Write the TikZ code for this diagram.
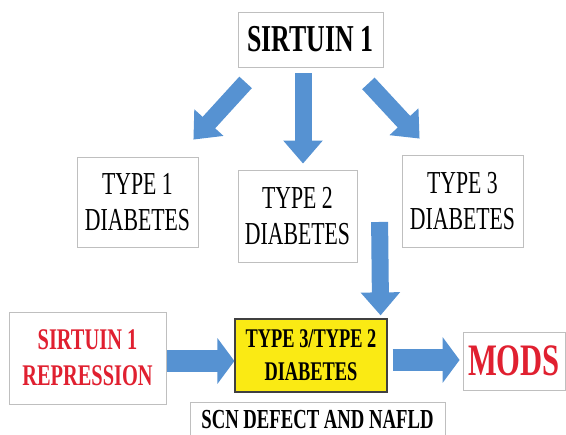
\documentclass[tikz,border=0pt]{standalone}
\usepackage{fontspec}
\setmainfont{Liberation Serif}[FakeStretch=0.68]
\usepackage{xcolor}
\usetikzlibrary{arrows.meta, positioning}
\definecolor{arrowblue}{RGB}{86,146,210}
\definecolor{repred}{RGB}{224,32,48}
\definecolor{boxyellow}{RGB}{250,234,20}

\begin{document}
\begin{tikzpicture}[x=1pt,y=1pt,
    box/.style={draw=black!25, line width=0.8pt, inner sep=0pt, align=center},
    hilite/.style={box, draw=black!75, fill=boxyellow, line width=1.2pt},
    fat/.style={draw=arrowblue, line width=17pt, -{Triangle[width=38pt,length=23pt]}},
    fatwide/.style={draw=arrowblue, line width=22pt, -{Triangle[width=45pt,length=17pt]}}]

  \useasboundingbox (0,0) rectangle (566,435);

  % top and the three types
  \node[box, minimum width=145pt, minimum height=55pt, font={\bfseries\fontsize{38}{44}\selectfont}] (sirt) at (310.5,395.5) {SIRTUIN 1};
  \node[box, minimum width=121pt, minimum height=90pt, font={\fontsize{32}{36}\selectfont}] (t1) at (137.5,233) {TYPE 1\\DIABETES};
  \node[box, minimum width=119pt, minimum height=92pt, font={\fontsize{32}{36}\selectfont}] (t2) at (297.5,219) {TYPE 2\\DIABETES};
  \node[box, minimum width=121pt, minimum height=92pt, font={\fontsize{32}{36}\selectfont}] (t3) at (462.5,234) {TYPE 3\\DIABETES};

  % bottom row
  \node[box, minimum width=157pt, minimum height=92pt, text=repred, font={\bfseries\fontsize{30}{36}\selectfont}] (rep) at (87.5,77) {SIRTUIN 1\\REPRESSION};
  \node[hilite, minimum width=152pt, minimum height=73pt, font={\bfseries\fontsize{27}{33}\selectfont}] (t32) at (311,79.5) {TYPE 3/TYPE 2\\DIABETES};
  \node[box, minimum width=102pt, minimum height=58pt, text=repred, font={\bfseries\fontsize{45}{50}\selectfont}] (mods) at (514,74) {MODS};
  \node[box, minimum width=255pt, minimum height=34pt, text height=20pt, text depth=0pt, font={\bfseries\fontsize{27.5}{33}\selectfont}] (scn) at (317.5,16) {SCN DEFECT AND NAFLD};

  \draw[fat] ([xshift=8pt,yshift=-15pt]sirt.south west) -- ([xshift=-5pt,yshift=17pt]t1.north east);
  \draw[fat] ([xshift=-7.5pt,yshift=-6pt]sirt.south) -- ([xshift=5.5pt,yshift=6pt]t2.north);
  \draw[fat] ([xshift=-15pt,yshift=-16pt]sirt.south east) -- ([xshift=18pt,yshift=16pt]t3.north west);
  \draw[fat] ([xshift=-22pt,yshift=-21pt]t3.west) -- ([xshift=-7pt,yshift=3pt]t32.north east);
  \draw[fatwide] ([xshift=1pt,yshift=-3pt]rep.east) -- ([yshift=-5.5pt]t32.west);
  \draw[fatwide] ([xshift=5pt,yshift=-4.5pt]t32.east) -- ([xshift=-3pt,yshift=1pt]mods.west);
\end{tikzpicture}
\end{document}
